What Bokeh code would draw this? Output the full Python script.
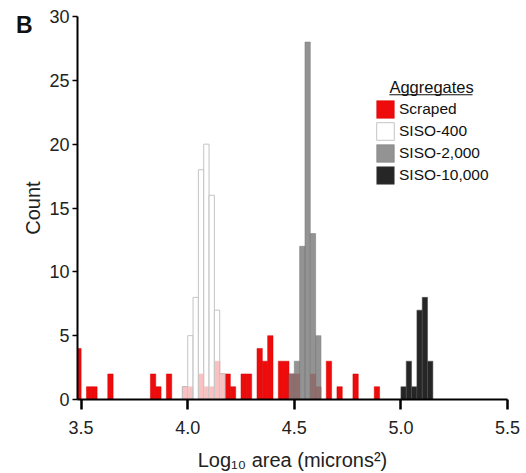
from bokeh.plotting import figure
from bokeh.models import (Range1d, Legend, LegendItem, Label, BoxAnnotation,
                          FixedTicker, ColumnDataSource, LinearAxis)
from bokeh.embed import file_html
from bokeh.resources import INLINE

# ---------------- data (bin left edges, log10 area, and counts) ----------------
BIN_WIDTH = 0.025

scraped_bins = [3.475, 3.525, 3.55, 3.625, 3.825, 3.85, 3.9, 3.975, 4.0, 4.05,
                4.075, 4.1, 4.125, 4.15, 4.175, 4.2, 4.25, 4.275, 4.325, 4.35,
                4.375, 4.425, 4.45, 4.475, 4.5, 4.575, 4.6, 4.65, 4.7, 4.775, 4.875]
scraped_counts = [4, 1, 1, 2, 2, 1, 2, 1, 1, 2,
                  1, 1, 3, 2, 2, 1, 2, 2, 4, 3,
                  5, 3, 3, 2, 2, 2, 1, 3, 1, 2, 1]

siso400_bins = [3.975, 4.0, 4.025, 4.05, 4.075, 4.1, 4.125, 4.15]
siso400_counts = [1, 5, 8, 18, 20, 16, 7, 2]

siso2000_bins = [4.475, 4.5, 4.525, 4.55, 4.575, 4.6]
siso2000_counts = [2, 3, 12, 28, 13, 5]

siso10000_bins = [5.0, 5.025, 5.05, 5.075, 5.1, 5.125]
siso10000_counts = [1, 3, 1, 7, 8, 3]

series_names = ["Scraped", "SISO-400", "SISO-2,000", "SISO-10,000"]

x_ticks = [3.5, 4.0, 4.5, 5.0, 5.5]
x_tick_labels = ["3.5", "4.0", "4.5", "5.0", "5.5"]
y_ticks = [0, 5, 10, 15, 20, 25, 30]

FONT = "Liberation Sans"

# ---------------- figure ----------------
p = figure(width=526, height=473, output_backend="svg", toolbar_location=None,
           x_range=Range1d(3.483, 5.5), y_range=Range1d(0, 30),
           min_border_left=77, min_border_right=19, min_border_top=16,
           min_border_bottom=73)
p.outline_line_color = None
p.xgrid.visible = False
p.ygrid.visible = False


def src(bins, counts):
    return ColumnDataSource(dict(x=[b + BIN_WIDTH / 2 for b in bins], top=counts))


r_red = p.vbar(x="x", top="top", width=BIN_WIDTH, bottom=0,
               source=src(scraped_bins, scraped_counts),
               fill_color="#ee0b0b", line_color="#d80000", line_width=0.5)
r_white = p.vbar(x="x", top="top", width=BIN_WIDTH, bottom=0,
                 source=src(siso400_bins, siso400_counts),
                 fill_color="white", fill_alpha=0.75,
                 line_color="#c4c4c4", line_width=1)
r_gray = p.vbar(x="x", top="top", width=BIN_WIDTH, bottom=0,
                source=src(siso2000_bins, siso2000_counts),
                fill_color="#808080", fill_alpha=0.85,
                line_color="#767676", line_width=0.5)
r_black = p.vbar(x="x", top="top", width=BIN_WIDTH, bottom=0,
                 source=src(siso10000_bins, siso10000_counts),
                 fill_color="#262626", line_color="#4a4a4a", line_width=0.5)

# ---------------- axes ----------------
xa = p.xaxis[0]
xa.ticker = FixedTicker(ticks=x_ticks)
xa.major_label_overrides = {t: l for t, l in zip(x_ticks, x_tick_labels)}
xa.axis_label = "Log\u2081\u2080 area (microns\u00b2)"
xa.major_tick_out = 10
xa.major_tick_in = 0
xa.major_tick_line_width = 2.5
xa.major_label_standoff = 11
xa.axis_label_standoff = 12

ya = p.yaxis[0]
ya.ticker = FixedTicker(ticks=y_ticks)
ya.axis_label = "Count"
ya.major_tick_out = 5
ya.major_tick_in = 0
ya.major_tick_line_width = 1.5
ya.major_label_standoff = 3
ya.axis_label_standoff = 2

for ax in (xa, ya):
    ax.axis_line_width = 2
    ax.axis_line_color = "black"
    ax.major_tick_line_color = "black"
    ax.minor_tick_line_color = None
    ax.major_label_text_font = FONT
    ax.major_label_text_font_size = "18px"
    ax.major_label_text_color = "#222222"
    ax.axis_label_text_font = FONT
    ax.axis_label_text_font_size = "20px"
    ax.axis_label_text_font_style = "normal"
    ax.axis_label_text_color = "#222222"

# panel letter "B": an outer left axis carrying one bare label near the top
PANEL_LETTER_POS = 29.35
letter_axis = LinearAxis(ticker=FixedTicker(ticks=[PANEL_LETTER_POS]),
                         major_label_overrides={PANEL_LETTER_POS: "B"},
                         axis_line_color=None, major_tick_line_color=None,
                         minor_tick_line_color=None,
                         major_tick_out=0, major_tick_in=0,
                         major_label_standoff=-13,
                         major_label_text_font=FONT,
                         major_label_text_font_size="23px",
                         major_label_text_font_style="bold",
                         major_label_text_color="#111111")
p.add_layout(letter_axis, "left")

# ---------------- legend ----------------
legend = Legend(items=[LegendItem(label=series_names[0], renderers=[r_red]),
                       LegendItem(label=series_names[1], renderers=[r_white]),
                       LegendItem(label=series_names[2], renderers=[r_gray]),
                       LegendItem(label=series_names[3], renderers=[r_black])],
                location=(297, 213), orientation="vertical",
                padding=0, margin=0, spacing=0,
                glyph_width=22, glyph_height=22, label_height=22,
                label_standoff=3,
                label_text_font=FONT, label_text_font_size="15.5px",
                label_text_color="#111111",
                border_line_color=None, background_fill_alpha=0)
p.add_layout(legend)

p.add_layout(Label(x=4.946, y=23.79, text="Aggregates", text_font=FONT,
                   text_font_size="16.5px", text_color="#111111",
                   text_baseline="bottom"))
p.add_layout(BoxAnnotation(left=4.946, right=5.336, top=23.91, bottom=23.83,
                           fill_color="#111111", fill_alpha=1.0,
                           line_color=None))

open("out.html", "w").write(file_html(p, INLINE))
